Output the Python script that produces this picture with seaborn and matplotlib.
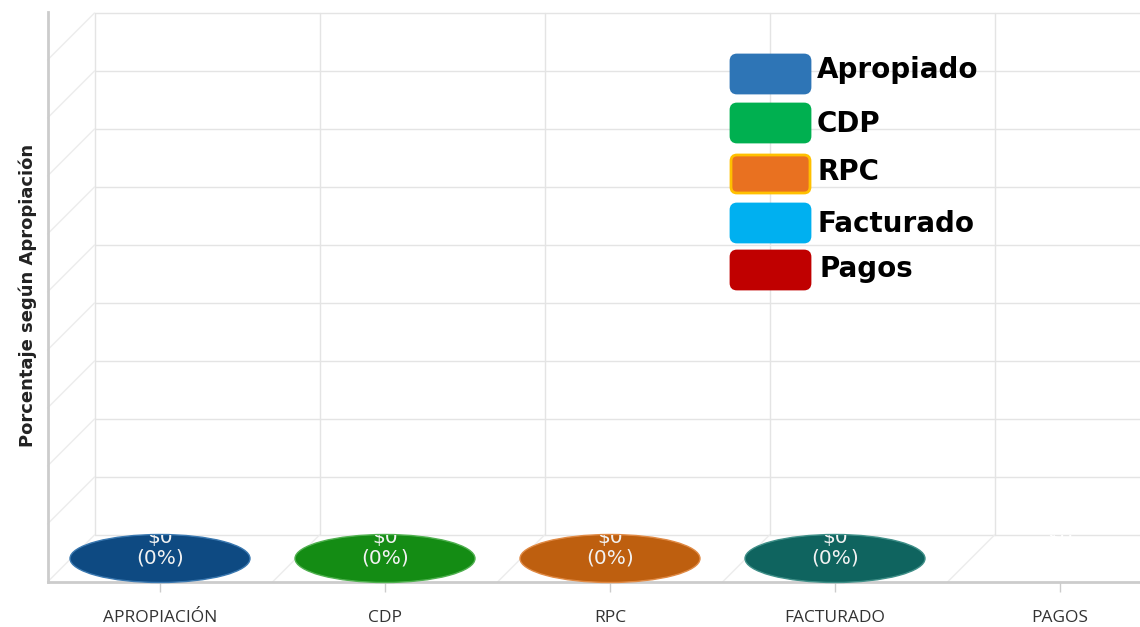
import numpy as np
import pandas as pd
import matplotlib
matplotlib.use("Agg")
import matplotlib.pyplot as plt
import seaborn as sns
from matplotlib.patches import Ellipse, FancyBboxPatch, ConnectionPatch, Rectangle
from matplotlib.transforms import ScaledTranslation, IdentityTransform, Bbox, TransformedBbox

# ---- datos ----
categorias = ["APROPIACIÓN", "CDP", "RPC", "FACTURADO", "PAGOS"]
montos = [0, 0, 0, 0, 0]
colores_barras = ["#0e4a82", "#148c14", "#be5f0f", "#0f645f", "#ffffff00"]
bordes_barras = ["#3a78b0", "#4fb04f", "#e08a45", "#3f8f88", "#ffffff00"]
colores_etiquetas = ["#f2f2f2", "#f2f2f2", "#f2f2f2", "#f2f2f2", "#ffffff"]

leyenda_nombres = ["Apropiado", "CDP", "RPC", "Facturado", "Pagos"]
leyenda_colores = ["#2e75b6", "#00b050", "#e97120", "#00b0f0", "#c00000"]
leyenda_bordes = ["#2e75b6", "#00b050", "#ffc000", "#00b0f0", "#c00000"]

ticks_y = list(range(0, 100, 10))

apropiado = montos[0]
porcentajes = [(m / apropiado * 100) if apropiado else 0 for m in montos]

# ---- geometría ----
W, H = 1140, 627
DPI = 100
GRID_PX = 58          # píxeles entre líneas de la cuadrícula
DEPTH_PX = 47         # profundidad del efecto 3D
ppu = GRID_PX / 10    # píxeles por unidad del eje y

sns.set_theme(style="white")
plt.rcParams["font.family"] = ["DejaVu Sans"]

fig = plt.figure(figsize=(W / DPI, H / DPI), dpi=DPI)
fig.patch.set_facecolor("white")
ax_left, ax_bottom, ax_w, ax_h = 47.5, 45, 1125, 570
ax = fig.add_axes([ax_left / W, ax_bottom / H, ax_w / W, ax_h / H])
ax.set_facecolor("none")

df = pd.DataFrame({"categoria": categorias, "monto": montos})
paleta = [c[:7] for c in colores_barras]
sns.barplot(data=df, x="categoria", y="monto", hue="categoria",
            palette=paleta, legend=False, width=0.8,
            linewidth=0, ax=ax)
barras = sorted([p for p in ax.patches if isinstance(p, Rectangle)],
                key=lambda p: p.get_x())

ax.set_xlim(-0.5, len(categorias) - 0.5)
ax.set_ylim(0, ax_h / ppu)

back = ax.transData + ScaledTranslation(DEPTH_PX / DPI, DEPTH_PX / DPI, fig.dpi_scale_trans)
grid_c = "#e4e4e4"
diag_c = "#ececec"

# pared del fondo
for y in ticks_y:
    ax.plot([-0.5, len(categorias) + 0.5], [y, y], transform=back,
            color=grid_c, lw=1, clip_on=False, zorder=0)
for x in np.arange(-0.5, len(categorias), 1.0):
    ax.plot([x, x], [0, ticks_y[-1]], transform=back,
            color=grid_c, lw=1, clip_on=False, zorder=0)

# pared lateral y piso
for y in ticks_y:
    ax.add_artist(ConnectionPatch((-0.5, y), (-0.5, y), coordsA=ax.transData,
                                  coordsB=back, color=diag_c, lw=1, zorder=0))
for x in np.arange(0.5, len(categorias), 1.0):
    ax.add_artist(ConnectionPatch((x, 0), (x, 0), coordsA=ax.transData,
                                  coordsB=back, color=diag_c, lw=1, zorder=0))

# cilindros (altura cero: sólo la base elíptica) y etiquetas
ell_h = 48 / ppu
for i, bar in enumerate(barras):
    cx = bar.get_x() + bar.get_width() / 2
    top = bar.get_height()
    t_ell = ax.transData + ScaledTranslation(0, (DEPTH_PX / 2) / DPI, fig.dpi_scale_trans)
    ell = Ellipse((cx, top), width=bar.get_width(), height=ell_h,
                  transform=t_ell, facecolor=colores_barras[i],
                  edgecolor=bordes_barras[i], lw=1, zorder=3, clip_on=False)
    ax.add_patch(ell)
    caja = TransformedBbox(Bbox([[cx - 0.5, top - 1], [cx + 0.5, top + ell_h - 0.2]]),
                           ax.transData)
    t_pct = ax.transData + ScaledTranslation(0, 24 / DPI, fig.dpi_scale_trans)
    ax.text(cx, top, f"({porcentajes[i]:.0f}%)", transform=t_pct,
            ha="center", va="center", fontsize=14.5,
            color=colores_etiquetas[i], zorder=4)
    t_mon = ax.transData + ScaledTranslation(0, 44 / DPI, fig.dpi_scale_trans)
    txt = ax.text(cx, top, f"\\${montos[i]:,.0f}", transform=t_mon,
                  ha="center", va="center", fontsize=14.5,
                  color=colores_etiquetas[i], zorder=4)
    txt.set_clip_box(caja)
    txt.set_clip_on(True)

# ejes
for s in ["top", "right"]:
    ax.spines[s].set_visible(False)
for s in ["left", "bottom"]:
    ax.spines[s].set_color("#cccccc")
    ax.spines[s].set_linewidth(2)
    ax.spines[s].set_zorder(1)
ax.tick_params(axis="y", left=False, labelleft=False)
ax.tick_params(axis="x", bottom=True, length=7, width=1, color="#cccccc",
               pad=13, labelsize=12.5, labelcolor="#333333")
for lab in ax.get_xticklabels():
    lab.set_family("Open Sans")
ax.set_xlabel("")
ax.set_ylabel("Porcentaje según Apropiación", fontsize=13,
              fontweight="bold", color="#222222")
ax.yaxis.set_label_coords((37 - ax_left) / ax_w, (582 - 295) / ax_h)

# leyenda
box_x, box_w, box_h = 731, 79, 38
box_tops = [55, 104, 155, 204, 251]
text_base = [78, 132, 180, 232, 277]
text_x = [817, 817, 818, 818, 820]
for i, (nombre, col, borde) in enumerate(zip(leyenda_nombres, leyenda_colores, leyenda_bordes)):
    top_px = box_tops[i]
    fig.add_artist(FancyBboxPatch((box_x, H - top_px - box_h), box_w, box_h,
                                  boxstyle="round,pad=0,rounding_size=6",
                                  transform=IdentityTransform(),
                                  facecolor=col, edgecolor=borde, lw=2))
    fig.text(text_x[i], H - text_base[i], nombre,
             transform=IdentityTransform(), ha="left", va="baseline",
             fontsize=20, fontweight="bold", color="black")

fig.savefig("out.png", dpi=DPI, facecolor="white")
